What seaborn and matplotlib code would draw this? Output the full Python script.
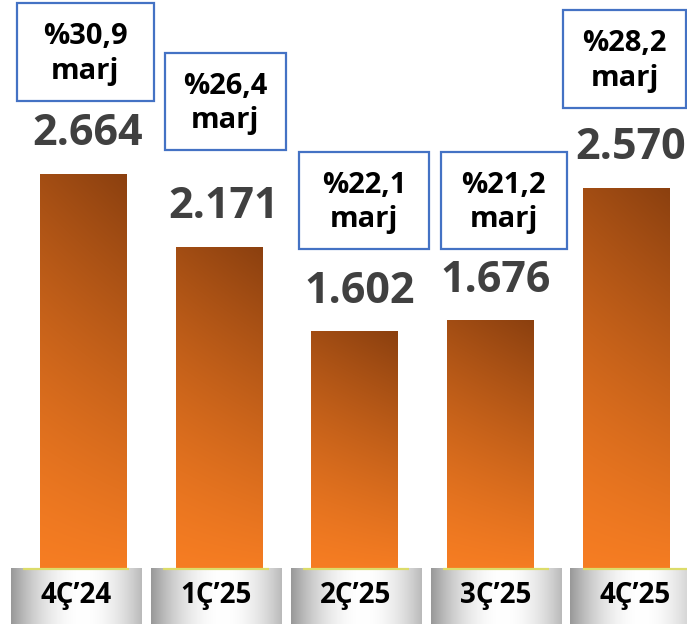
import numpy as np
import matplotlib
matplotlib.use("Agg")
import matplotlib.pyplot as plt
import matplotlib.patches as mpatches
import seaborn as sns

# Data
quarters = ["4Ç’24", "1Ç’25", "2Ç’25", "3Ç’25", "4Ç’25"]
values = [2664, 2171, 1602, 1676, 2570]
margins = ["%30,9", "%26,4", "%22,1", "%21,2", "%28,2"]

# Layout of the margin boxes: offset (px) of box centre from bar top, and box size (px)
box_dx = [2.5, 6.5, 9.5, 13.5, -1.5]
box_dy = [122, 145.5, 130.5, 119.5, 129]
box_w = [137, 121, 130, 126, 123]
box_h = [98, 97, 97, 97, 98]

sns.set_theme(style="white")
plt.rcParams['font.family'] = ['Open Sans', 'DejaVu Sans']

fig = plt.figure(figsize=(6.87, 6.24), dpi=100)
ax = fig.add_axes([0, 0, 1, 1])

sns.barplot(x=quarters, y=values, width=0.634, color="#f57b22",
            saturation=1, ax=ax)

xlim = (-0.611, 4.449)
ylim = (-378.6, 3840)

# orange -> brown gradient on every bar
c_bot = np.array([0.965, 0.490, 0.135])
c_top = np.array([0.545, 0.250, 0.060])
nv, nu = 200, 60
v = np.linspace(0, 1, nv)[:, None]
u = np.linspace(0, 1, nu)[None, :]
t = np.clip(0.78 * v ** 1.25 + 0.22 * u * v ** 0.6, 0, 1)
grad = c_bot[None, None, :] * (1 - t[..., None]) + c_top[None, None, :] * t[..., None]

for p in ax.patches:
    x0, y0 = p.get_x(), p.get_y()
    w, h = p.get_width(), p.get_height()
    im = ax.imshow(grad, extent=[x0, x0 + w, y0, y0 + h], origin="lower",
                   aspect="auto", zorder=p.get_zorder() + 0.1, interpolation="bilinear")
    im.set_clip_path(p)

# grey category tabs under the bars
gray_u = np.linspace(0, 1, 120)
shade = 1 - 0.40 * (np.abs(gray_u - 0.55) / 0.55) ** 2.0
gray = np.repeat(shade[None, :, None], 3, axis=2)
tab_w = 0.96
for i, q in enumerate(quarters):
    cx = -0.05 + i * 1.03
    ax.imshow(gray, extent=[cx - tab_w / 2, cx + tab_w / 2, ylim[0], -6],
              aspect="auto", zorder=1, interpolation="bilinear")
    ax.plot([cx - tab_w / 2 + 0.09, cx + tab_w / 2 - 0.09], [-8, -8],
            color="#dcdc6a", lw=1.6, zorder=2, solid_capstyle="butt")
    ax.text(cx, ylim[0] + 28 / 0.1479, q, ha="center", va="center",
            fontsize=20, fontweight="bold", color="black", zorder=3)

ax.set_xlim(*xlim)
ax.set_ylim(*ylim)
ax.axis("off")

fig.canvas.draw()

for i, (val, m) in enumerate(zip(values, margins)):
    label = f"{val:,}".replace(",", ".")
    ax.annotate(label, xy=(i, val), xytext=(5, 40), textcoords="offset pixels",
                ha="center", va="center", fontsize=31, fontweight="bold",
                color="#404040", zorder=4)

    bx, by = ax.transData.transform((i, val))
    cx, cy = bx + box_dx[i], by + box_dy[i]
    rect = mpatches.Rectangle((cx - box_w[i] / 2, cy - box_h[i] / 2), box_w[i], box_h[i],
                              transform=None, fill=False, edgecolor="#4472c4",
                              lw=1.6, clip_on=False, zorder=4)
    ax.add_patch(rect)
    ax.text(cx, cy - 2, f"{m}\nmarj", transform=None, ha="center", va="center",
            fontsize=21, fontweight="bold", color="black", linespacing=1.25,
            zorder=5)

fig.savefig("out.png", dpi=100)
